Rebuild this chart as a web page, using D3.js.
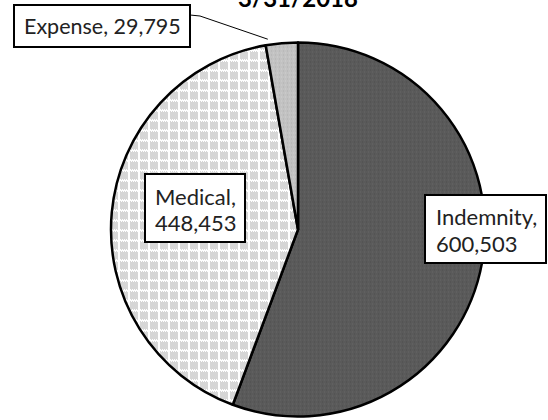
<!DOCTYPE html>
<html>
<head>
<meta charset="utf-8">
<script src="https://cdn.jsdelivr.net/npm/d3@7"></script>
<style>
  html, body { margin: 0; padding: 0; background: #fff; }
  svg { display: block; }
  text { font-family: Lato, "Open Sans", sans-serif; fill: #222; }
</style>
</head>
<body>
<svg id="chart" width="548" height="420"></svg>
<script>
// Claim cost components
const categories = ["Indemnity", "Medical", "Expense"];
const amounts = [600503, 448453, 29795];
const chartTitle = "3/31/2018";

const width = 548, height = 420;
const cx = 298, cy = 229.5, radius = 187;

const svg = d3.select("#chart");
const defs = svg.append("defs");

// Indemnity: dark grey with a fine grain
const pInd = defs.append("pattern").attr("id", "pInd")
  .attr("width", 4).attr("height", 4).attr("patternUnits", "userSpaceOnUse");
pInd.append("rect").attr("width", 4).attr("height", 4).attr("fill", "#5a5a5a");
pInd.append("rect").attr("x", 0).attr("y", 0).attr("width", 1).attr("height", 1).attr("fill", "#4e4e4e");
pInd.append("rect").attr("x", 2).attr("y", 2).attr("width", 1).attr("height", 1).attr("fill", "#666");

// Medical: white with a grey checker lattice
const pMed = defs.append("pattern").attr("id", "pMed")
  .attr("width", 10).attr("height", 10).attr("patternUnits", "userSpaceOnUse");
pMed.append("rect").attr("width", 10).attr("height", 10).attr("fill", "#fff");
for (let x = 0; x < 10; x++) {
  for (let y = 0; y < 10; y++) {
    const onLine = (x < 2 || y < 2);
    if (!onLine && (x + y) % 2 === 0) {
      pMed.append("rect").attr("x", x).attr("y", y).attr("width", 1).attr("height", 1).attr("fill", "#acacac");
    }
  }
}

// Expense: light grey with a faint grain
const pExp = defs.append("pattern").attr("id", "pExp")
  .attr("width", 4).attr("height", 4).attr("patternUnits", "userSpaceOnUse");
pExp.append("rect").attr("width", 4).attr("height", 4).attr("fill", "#c2c2c2");
pExp.append("rect").attr("x", 1).attr("y", 1).attr("width", 1).attr("height", 1).attr("fill", "#b0b0b0");
pExp.append("rect").attr("x", 3).attr("y", 3).attr("width", 1).attr("height", 1).attr("fill", "#d0d0d0");

const fills = ["url(#pInd)", "url(#pMed)", "url(#pExp)"];

const data = categories.map((c, i) => ({ name: c, value: amounts[i], fill: fills[i] }));

const pie = d3.pie().value(d => d.value).sort(null);
const arc = d3.arc().innerRadius(0).outerRadius(radius);
const arcs = pie(data);

const g = svg.append("g").attr("transform", `translate(${cx},${cy})`);
g.selectAll("path.slice")
  .data(arcs)
  .join("path")
  .attr("class", "slice")
  .attr("d", arc)
  .attr("fill", d => d.data.fill)
  .attr("stroke", "#000")
  .attr("stroke-width", 2.5)
  .attr("stroke-linejoin", "round");

// Title, partly above the top of the frame
svg.append("text")
  .attr("x", cx).attr("y", 7)
  .attr("text-anchor", "middle")
  .attr("font-size", 24)
  .attr("font-weight", "bold")
  .style("fill", "#000")
  .text(chartTitle);

const fmt = d3.format(",");

// Expense label with leader line
const expArc = arcs[2];
const expMid = (expArc.startAngle + expArc.endAngle) / 2;
const edge = [Math.sin(expMid) * radius, -Math.cos(expMid) * radius];
svg.append("polyline")
  .attr("points", [[190, 15], [200, 16], [cx + edge[0] - 14, cy + edge[1] - 4]].map(p => p.join(",")).join(" "))
  .attr("fill", "none").attr("stroke", "#000").attr("stroke-width", 1);

function labelBox(x, y, w, h, lines, tx, ty, lh, fs) {
  svg.append("rect").attr("x", x).attr("y", y).attr("width", w).attr("height", h)
    .attr("fill", "#fff").attr("stroke", "#000").attr("stroke-width", 2);
  const t = svg.append("text").attr("x", tx).attr("y", ty).attr("font-size", fs);
  lines.forEach((l, i) => t.append("tspan").attr("x", tx).attr("dy", i === 0 ? 0 : lh).text(l));
}

labelBox(14, 5, 176, 42, [`${data[2].name}, ${fmt(data[2].value)}`], 24, 34, 0, 21.5);
labelBox(145, 174, 100, 68, [`${data[1].name},`, fmt(data[1].value)], 155, 205, 26, 22);
labelBox(425, 195, 121, 68, [`${data[0].name},`, fmt(data[0].value)], 436, 225, 27, 22);
</script>
</body>
</html>
